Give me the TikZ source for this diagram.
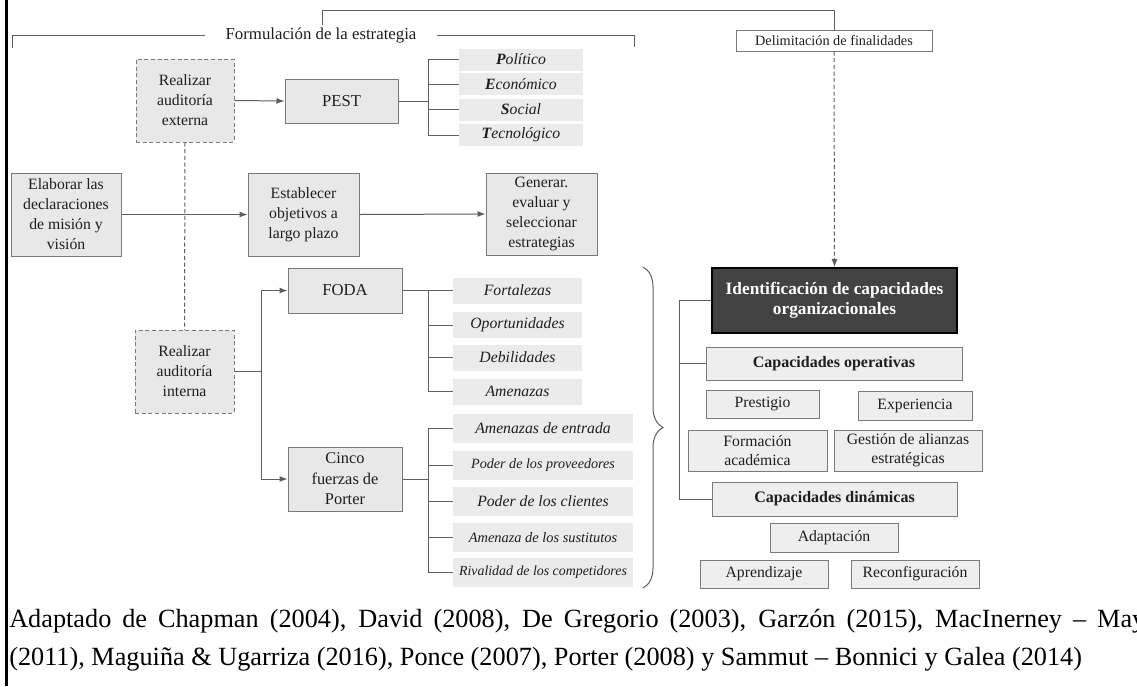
\documentclass[tikz,border=0pt]{standalone}
\usepackage{fontspec}
\setmainfont{Liberation Serif}
\usetikzlibrary{arrows.meta,decorations.pathreplacing}
\definecolor{linegray}{HTML}{5E5E5E}
\definecolor{boxborder}{HTML}{7A7A7A}
\definecolor{boxfill}{HTML}{E8E8E8}
\definecolor{rfill}{HTML}{EEEEEE}
\definecolor{itemfill}{HTML}{EBEBEB}
\definecolor{textc}{HTML}{1E1E1E}
\definecolor{identfill}{HTML}{424242}
\begin{document}
\begin{tikzpicture}[x=0.75pt,y=-0.75pt,
  line/.style={draw=linegray,line width=0.75pt},
  arr/.style={line,-{Latex[length=6pt,width=4.5pt]}},
  dline/.style={line,dash pattern=on 3pt off 2pt},
  wh/.style 2 args={minimum width={#1*0.75pt},minimum height={#2*0.75pt}},
  box/.style={draw=boxborder,fill=boxfill,line width=0.75pt,align=center,inner sep=0pt,
    font=\fontsize{11.8}{15}\selectfont,text=textc},
  dbox/.style={box,dash pattern=on 3pt off 2pt},
  rbox/.style={box,fill=rfill},
  item/.style={fill=itemfill,inner sep=0pt,font=\fontsize{11.8}{15}\selectfont\itshape,text=textc},
]
\useasboundingbox (0,0) rectangle (1137,686);
\fill[white] (0,0) rectangle (1137,686);
% left bar
\fill[black] (5,0) rectangle (8,686);

% top labels
\node[rbox,fill=white,wh={196}{21},font=\fontsize{10.7}{13}\selectfont] (delim) at (834,40.5) {Delimitación de finalidades};
\node[inner sep=0pt,wh={232}{14},font=\fontsize{12.6}{14}\selectfont,text=textc] (form) at (321,35) {Formulación de la estrategia};
\coordinate (tl) at (322,25);
\coordinate (tr) at (834,10);
\coordinate (fl) at (12,48);
\coordinate (fr) at (634,47);
\draw[line] (tl) |- (tr) -- (delim.north);
\draw[line] (fl) |- (form.west);
\draw[line] (form.east) -| (fr);

% left column
\node[dbox,wh={98}{83}] (ext) at (185,100.5) {Realizar\\auditoría\\externa};
\node[box,wh={110}{83}] (elab) at (66,214.5) {Elaborar las\\declaraciones\\de misión y\\visión};
\node[dbox,wh={99}{83}] (int) at (184.5,371.5) {Realizar\\auditoría\\interna};

% middle column
\node[box,wh={113}{44},font=\fontsize{12.5}{15}\selectfont] (pest) at (341.5,101) {PEST};
\node[box,wh={111}{83}] (estab) at (303.5,214.5) {Establecer\\objetivos a\\largo plazo};
\node[box,wh={111}{82}] (gen) at (541.5,214) {Generar.\\evaluar y\\seleccionar\\estrategias};
\node[box,wh={114}{45},font=\fontsize{12.5}{15}\selectfont] (foda) at (345,290.5) {FODA};
\node[box,wh={114}{64},font=\fontsize{12.3}{15.3}\selectfont] (cinco) at (345,479) {Cinco\\fuerzas de\\Porter};

% PEST items
\node[item,wh={124}{22}] (p1) at (521,59.5) {{\bfseries P}olítico};
\node[item,wh={124}{22}] (p2) at (521,84) {{\bfseries E}conómico};
\node[item,wh={124}{22}] (p3) at (521,109.5) {{\bfseries S}ocial};
\node[item,wh={124}{22}] (p4) at (521,135) {{\bfseries T}ecnológico};

% FODA items
\node[item,wh={129}{26}] (f1) at (517.5,290.5) {Fortalezas};
\node[item,wh={129}{26}] (f2) at (517.5,325) {Oportunidades};
\node[item,wh={129}{26}] (f3) at (517.5,357.5) {Debilidades};
\node[item,wh={129}{26}] (f4) at (517.5,391.5) {Amenazas};

% Porter items
\node[item,wh={180}{29}] (c1) at (543,428) {Amenazas de entrada};
\node[item,wh={180}{29},font=\fontsize{10.6}{13}\selectfont\itshape] (c2) at (543,465) {Poder de los proveedores};
\node[item,wh={180}{29}] (c3) at (543,501) {Poder de los clientes};
\node[item,wh={180}{29},font=\fontsize{10.8}{13}\selectfont\itshape] (c4) at (543,537.5) {Amenaza de los sustitutos};
\node[item,wh={180}{29},font=\fontsize{10.4}{13}\selectfont\itshape] (c5) at (543,572.5) {Rivalidad de los competidores};

% right column
\node[box,draw=black,line width=1.5pt,fill=identfill,text=white,wh={245}{65},
  font=\fontsize{13}{15}\selectfont\bfseries] (ident) at (834.5,300.5) {Identificación de capacidades\\organizacionales};
\node[rbox,wh={256}{33},font=\fontsize{12}{14}\selectfont\bfseries] (capop) at (834,363.5) {Capacidades operativas};
\node[rbox,wh={113}{28}] (prest) at (762.5,404) {Prestigio};
\node[rbox,wh={114}{29}] (exper) at (915,405.5) {Experiencia};
\node[rbox,wh={139}{41},font=\fontsize{11.8}{14.3}\selectfont] (form2) at (757.5,450.5) {Formación\\académica};
\node[rbox,wh={148}{41},font=\fontsize{11.8}{14.3}\selectfont] (gest) at (908,450.5) {Gestión de alianzas\\estratégicas};
\node[rbox,wh={245}{34},font=\fontsize{12}{14}\selectfont\bfseries] (capdin) at (834.5,499) {Capacidades dinámicas};
\node[rbox,wh={128}{29}] (adapt) at (834,537.5) {Adaptación};
\node[rbox,wh={128}{28}] (aprend) at (764,574) {Aprendizaje};
\node[rbox,wh={128}{28}] (reconf) at (915,574) {Reconfiguración};

% connectors
\draw[dline,-{Latex[length=6pt,width=4.5pt]}] (delim.south) -- (ident.north);
\draw[arr] (ext.east) -- (pest.west);
\draw[arr] (elab.east) -- (estab.west);
\draw[arr] (estab.east) -- (gen.west);
\draw[dline] (ext.south) -- (int.north);

\coordinate (ij) at (261,371.5);
\draw[line] (int.east) -- (ij);
\draw[arr] (ij) |- (foda.west);
\draw[arr] (ij) |- (cinco.west);

\coordinate (pj) at (428,101);
\draw[line] (pest.east) -- (pj);
\foreach \n in {p1,p2,p3,p4} \draw[line] (pj) |- (\n.west);

\coordinate (fj) at (428,290.5);
\draw[line] (foda.east) -- (fj);
\foreach \n in {f1,f2,f3,f4} \draw[line] (fj) |- (\n.west);

\coordinate (cj) at (428,479);
\draw[line] (cinco.east) -- (cj);
\foreach \n in {c1,c2,c3,c4,c5} \draw[line] (cj) |- (\n.west);

% brace
\coordinate (bt) at (643,267);
\coordinate (bb) at (643,588);
\draw[line,decorate,decoration={brace,amplitude=15pt}] (bt) -- (bb);

% right bracket
\coordinate (rt) at (679,300.5);
\coordinate (rb) at (679,499);
\draw[line] (ident.west) -- (rt) -- (rb) -- (capdin.west);
\draw[line] (capop.west) -- (capop.west -| rt);

% caption
\begin{scope}
\clip (0,0) rectangle (1137,686);
\node[anchor=base west,inner sep=0pt,font=\fontsize{19.7}{24}\selectfont] (cap1) at (9,627)
  {\makebox[852pt][s]{Adaptado de Chapman (2004), David (2008), De Gregorio (2003), Garzón (2015), MacInerney – May}};
\node[anchor=base west,inner sep=0pt,font=\fontsize{19.7}{24}\selectfont] (cap2) at (9,665)
  {(2011), Maguiña \& Ugarriza (2016), Ponce (2007), Porter (2008) y Sammut – Bonnici y Galea (2014)};
\end{scope}
\end{tikzpicture}
\end{document}
